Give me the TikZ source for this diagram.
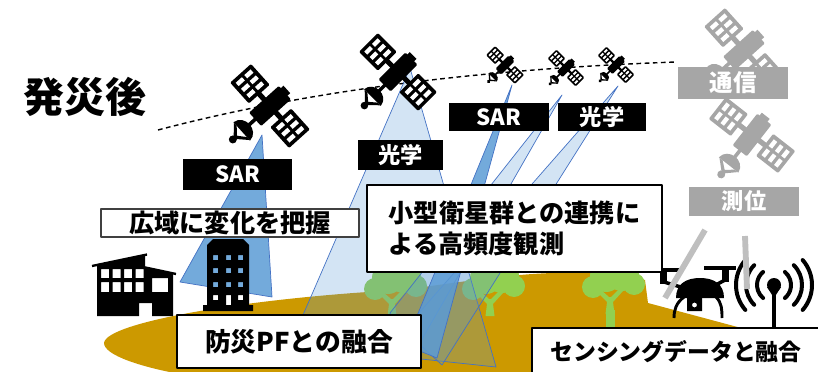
\documentclass[tikz,border=0pt]{standalone}
\usepackage{fontspec}
\setmainfont{Noto Sans CJK JP}
\usepackage{tikz}
\definecolor{cground}{RGB}{204,153,0}
\definecolor{cleaf}{RGB}{146,208,80}
\definecolor{cbeam}{RGB}{91,155,213}
\definecolor{cedge}{RGB}{68,114,196}
\definecolor{cgrey}{RGB}{166,166,166}
\definecolor{clight}{RGB}{191,191,191}
\definecolor{cframe}{RGB}{64,64,64}
% satellite: position, angle of the panel axis, size, colour
\newcommand{\iconsat}[4]{%
  \begin{scope}[shift={(#1)},rotate=#2,scale=#3]
    \foreach \s in {-1,1}{%
      \fill[#4,rounded corners=1pt] ({\s*1.5-0.7},-0.7) rectangle ({\s*1.5+0.7},0.7);
      \foreach \i in {-1,0,1}{%
        \foreach \j in {-1,1}{%
          \fill[white] ({\s*1.5+\i*0.4-0.11},{\j*0.29-0.21})
            rectangle ({\s*1.5+\i*0.4+0.11},{\j*0.29+0.21});}}}
    \fill[#4] (-0.9,-0.13) rectangle (0.9,0.13);
    \fill[#4,rounded corners=1pt] (-0.45,-1.0) rectangle (0.45,1.0);
    \fill[#4] (-0.3,-1.18) rectangle (0.2,-0.9);
    % dish
    \fill[#4] (-0.09,0.95) rectangle (0.09,1.4);
    \fill[#4] (-0.62,1.9) .. controls (-0.55,1.2) and (0.55,1.2) .. (0.62,1.9) -- cycle;
    \fill[#4] (-0.58,1.9) -- (0,2.45) -- (0.58,1.9) -- (0.38,1.9) -- (0,2.22) -- (-0.38,1.9) -- cycle;
    \fill[#4] (0,2.5) circle (0.2);
  \end{scope}}
% tree standing on its trunk foot
\newcommand{\icontree}[1]{%
  \begin{scope}[shift={(#1)}]
    \fill[cleaf] (-4.5,0) -- (-3,-12) -- (-13,-22) -- (-10,-25) -- (-1,-17) -- (1,-17) --
      (10,-26) -- (13,-23) -- (3,-12) -- (4.5,0) -- cycle;
    \fill[cleaf] (-17,-27) circle (11) (-4,-38) circle (16) (12,-40) circle (17) (24,-30) circle (11);
  \end{scope}}

\begin{document}
\begin{tikzpicture}[x=0.03cm,y=-0.03cm,line join=round,
  tag/.style={fill=black,text=white,inner sep=0pt,font=\fontsize{19pt}{19pt}\selectfont\bfseries},
  gtag/.style={tag,fill=cgrey},
  note/.style={draw=black,line width=1.7pt,fill=white,inner sep=0pt,
    font=\fontsize{21.5pt}{27pt}\selectfont\bfseries},
  beam/.style={fill=cbeam,fill opacity=0.27,draw=cedge,line width=0.6pt},
  sarbeam/.style={beam,fill opacity=0.85},
  wave/.style={line width=3.4pt,line cap=round},
  gnss/.style={clight,line width=5pt}]

\path[use as bounding box] (0,0) rectangle (818,372);
\clip (0,0) rectangle (818,372);

% orbit
\draw[line width=1.2pt,dash pattern=on 4pt off 3pt]
  (158,130) .. controls (306,91) and (479,69) .. (676,62);

% ground
\fill[cground] (104,343) .. controls (106,322) and (250,298) .. (400,290)
  .. controls (470,282) and (560,262) .. (645,280) -- (648,303) -- (745,329)
  -- (780,335) -- (780,380) -- (190,380) -- (185,375)
  .. controls (140,367) and (104,355) .. (104,343) -- cycle;

% trees
\icontree{392,316}
\icontree{490,316}
\fill[cleaf] (605.5,310) rectangle (614.5,327);
\icontree{610,314}

% observation beams
\draw[sarbeam] (262,135) -- (180,282) -- (272,297) -- cycle;
\draw[beam] (410,68) -- (290,345) -- (496,367) -- cycle;
\draw[beam] (562,95) -- (390,313) -- (410,360) -- cycle;
\draw[beam] (618,86) -- (404,330) -- (442,365) -- cycle;
\draw[sarbeam] (512,85) -- (405,345) -- (437,358) -- cycle;

% satellites
\iconsat{270,106}{-48}{20}{black}
\iconsat{398,72}{-45}{19}{black}
\iconsat{505,65}{-45}{9.3}{black}
\iconsat{566,68}{-45}{9}{black}
\iconsat{616,65}{-45}{9}{black}
\iconsat{744,50}{-48}{20}{cgrey}
\iconsat{752,135}{-38}{20}{cgrey}

% sensor tags
\node[tag,minimum width=3.27cm,minimum height=0.93cm] (sarA) at (237.5,174.5) {SAR};
\node[tag,minimum width=2.55cm,minimum height=0.9cm] (optA) at (400.5,155) {光学};
\node[tag,minimum width=3cm,minimum height=0.84cm] (sarB) at (499,117) {SAR};
\node[tag,minimum width=2.64cm,minimum height=0.84cm] (optB) at (602,117) {光学};
\node[gtag,minimum width=3.3cm,minimum height=0.96cm,font=\fontsize{20pt}{20pt}\selectfont\bfseries]
  (comm) at (733,83) {通信};
\node[gtag,minimum width=3.3cm,minimum height=0.87cm] (posi) at (744,201.5) {測位};

% title
\node[font=\fontsize{35pt}{35pt}\selectfont\bfseries] (title) at (85,97) {発災後};

% factory
\fill[black,even odd rule] (97,316) -- (97,265) -- (145,255) -- (145,268) -- (173,273)
  -- (173,316) -- (152,316) -- (152,303) -- (139,303) -- (139,316) -- cycle
  \foreach \c in {101,112.5,124,135.5}{ (\c,269) rectangle ++(8,9) (\c,282) rectangle ++(8,10) }
  (152,278) rectangle (168,292);
\draw[line width=2pt] (92,266) -- (147,254.5);
\draw[line width=2pt] (143,267) -- (176,274);

% office tower
\fill[black,even odd rule] (203,311) -- (203,305) -- (207,305) -- (207,245) -- (213,239)
  -- (243,239) -- (249,245) -- (249,305) -- (253,305) -- (253,311) -- cycle
  \foreach \r in {255,268,282}{ \foreach \c in {213,226,238}{ (\c,\r) rectangle ++(5,5) } }
  (213,295) rectangle ++(5,5) (226,295) rectangle ++(5,10) (238,295) rectangle ++(5,5);

% drone
\fill (646,268) rectangle (682,272);
\fill (704,266) rectangle (736,270);
\fill (660,268) rectangle (667,284);
\fill (722,266) rectangle (729,282);
\draw[line width=3pt] (664,282) -- (684,288);
\draw[line width=3pt] (725,280) -- (712,287);
\fill (676,298) .. controls (676,284) and (686,278) .. (700,278)
  .. controls (714,278) and (724,284) .. (724,298) -- cycle;
\draw[line width=2.5pt] (684,297) .. controls (676,303) and (674,310) .. (674,318);
\draw[line width=2.5pt] (716,297) .. controls (722,303) and (722,310) .. (722,318);
\fill[even odd rule] (687,297) rectangle (702,311) (694.5,305) circle (2.5);

% radio mast
\coordinate (ant) at (774,285);
\fill (ant) circle (7);
\fill (767,287) -- (774,298) -- (781,287) -- cycle;
\draw[line width=3.4pt] (774,292) -- (774,330);
\foreach \r/\a in {17/50,28/45,38/41}{%
  \draw[wave] (ant) ++(180-\a:\r) arc[start angle=180-\a,end angle=180+\a,radius=\r];
  \draw[wave] (ant) ++(-\a:\r) arc[start angle=-\a,end angle=\a,radius=\r];}

% positioning signals
\coordinate (gA) at (705,230);
\coordinate (gB) at (745,236);
\draw[gnss] (gA) -- (665,298);
\draw[gnss] (gB) -- (747,289);

% captions
\node[note,draw=cframe,line width=1.3pt,minimum width=7.74cm,minimum height=0.84cm]
  (wide) at (230,223) {広域に変化を把握};
\node[note,minimum width=8.85cm,minimum height=2.61cm,align=left]
  (small) at (514.5,228.5) {小型衛星群との連携に\\よる高頻度観測};
\node[note,minimum width=7.32cm,minimum height=1.59cm,font=\fontsize{22pt}{22pt}\selectfont\bfseries]
  (pf) at (299,341.5) {防災PFとの融合};
\node[note,minimum width=8.64cm,minimum height=1.44cm,font=\fontsize{19.5pt}{19.5pt}\selectfont\bfseries]
  (sense) at (676,352) {センシングデータと融合};

\end{tikzpicture}
\end{document}
